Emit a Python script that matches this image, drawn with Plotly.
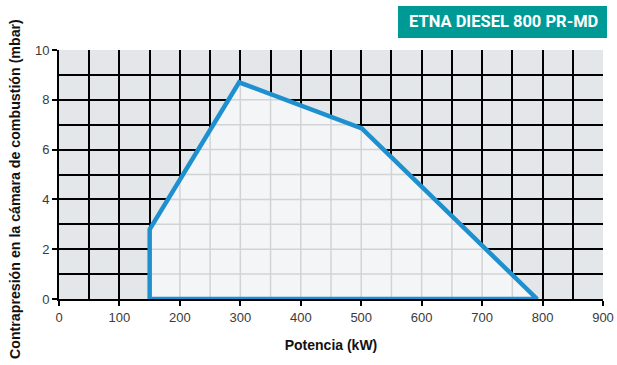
import numpy as np
import plotly.graph_objects as go

# Data: working field polygon (Potencia kW, Contrapresión mbar)
potencia = [150, 150, 298, 501, 791, 150]
presion = [0, 2.8, 8.7, 6.85, 0, 0]
x_ticks = [0, 100, 200, 300, 400, 500, 600, 700, 800, 900]
y_ticks = [0, 2, 4, 6, 8, 10]
title_text = "ETNA DIESEL 800 PR-MD"
x_title = "Potencia (kW)"
y_title = "Contrapresión en la cámara de combustión (mbar)"

fig = go.Figure()

# filled working area
fig.add_trace(go.Scatter(x=potencia, y=presion, fill="toself", fillcolor="#f4f5f7",
                         mode="none", hoverinfo="skip", showlegend=False))

# light grid lines inside the polygon
top_x = potencia[1:5]
top_y = presion[1:5]
gx, gy = [], []
for xv in range(200, 800, 50):
    yt = float(np.interp(xv, top_x, top_y))
    gx += [xv, xv, None]
    gy += [0, yt, None]
left_y = [0, 2.8, 8.7]
left_x = [150, 150, 298]
right_y = [0, 6.85, 8.7]
right_x = [791, 501, 298]
for yv in range(1, 9):
    xl = float(np.interp(yv, left_y, left_x))
    xr = float(np.interp(yv, right_y, right_x))
    gx += [xl, xr, None]
    gy += [yv, yv, None]
fig.add_trace(go.Scatter(x=gx, y=gy, mode="lines", line=dict(color="#d2d3d5", width=1.5),
                         hoverinfo="skip", showlegend=False))

# outline
fig.add_trace(go.Scatter(x=potencia, y=presion, mode="lines",
                         line=dict(color="#1e90d0", width=4.5), hoverinfo="skip",
                         showlegend=False))

tick_font = dict(family="Liberation Sans, Arial, sans-serif", size=13, color="#3a3a3a")
title_font = dict(family="Liberation Sans, Arial", size=14, color="#111111")

fig.update_layout(
    width=617, height=365,
    margin=dict(l=59, r=14, t=50, b=66, autoexpand=False),
    paper_bgcolor="white",
    plot_bgcolor="#e4e7ea",
    xaxis=dict(range=[0, 900], tickvals=x_ticks, showgrid=True, gridcolor="black", gridwidth=2,
               minor=dict(dtick=50, showgrid=True, gridcolor="black", gridwidth=2, ticks=""),
               showline=True, linecolor="black", linewidth=2, ticks="outside", ticklen=5,
               tickcolor="black", tickwidth=2, tickfont=tick_font, zeroline=False, automargin=False,
               title=dict(text="<b>" + x_title + "</b>", font=title_font, standoff=17)),
    yaxis=dict(range=[0, 10], tickvals=y_ticks, showgrid=True, gridcolor="black", gridwidth=2,
               minor=dict(dtick=1, showgrid=True, gridcolor="black", gridwidth=2, ticks=""),
               showline=True, linecolor="black", linewidth=2, ticks="outside", ticklen=5,
               tickcolor="black", tickwidth=2, tickfont=tick_font, zeroline=False, automargin=False),
    shapes=[dict(type="rect", xref="paper", yref="paper",
                 x0=(398 - 59) / 544, x1=(607 - 59) / 544,
                 y0=(299 - 38) / 249, y1=(299 - 6) / 249,
                 fillcolor="#009a96", line=dict(width=0), layer="above")],
    annotations=[
        dict(text="<b>" + title_text + "</b>", xref="paper", yref="paper",
             x=(504 - 59) / 544, y=(299 - 22) / 249, showarrow=False,
             xanchor="center", yanchor="middle",
             font=dict(family="Roboto, Liberation Sans, Arial", size=16.5, color="white")),
        dict(text="<b>" + y_title + "</b>", xref="paper", yref="paper",
             x=(15 - 59) / 544, y=(299 - 189) / 249, showarrow=False, textangle=-90,
             xanchor="center", yanchor="middle",
             font=dict(family="Liberation Sans, Arial", size=14.2, color="#111111")),
    ],
)

fig.write_html("out.html", config={"displayModeBar": False},
               post_script="document.body.style.margin='0';document.body.style.overflow='hidden';")
